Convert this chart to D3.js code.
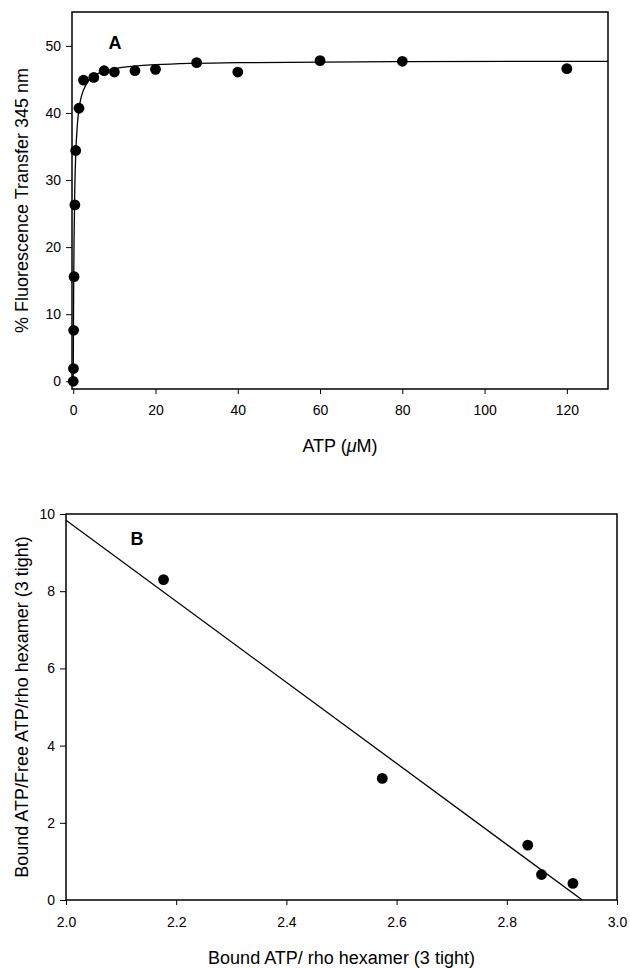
<!DOCTYPE html>
<html>
<head>
<meta charset="utf-8">
<script src="https://cdn.jsdelivr.net/npm/d3@7"></script>
<style>
  body { margin: 0; background: #fff; }
  svg text { font-family: "Liberation Sans", Arial, sans-serif; fill: #000; }
</style>
</head>
<body>
<svg id="chart" width="630" height="968"></svg>
<script>
// panel A: ATP titration
const atpX = [0, 0.05, 0.1, 0.2, 0.4, 0.6, 1.4, 2.5, 5, 7.5, 10, 15, 20, 30, 40, 60, 80, 120];
const atpY = [0, 1.9, 7.6, 15.6, 26.3, 34.4, 40.7, 44.9, 45.3, 46.3, 46.1, 46.3, 46.5, 47.5, 46.1, 47.8, 47.7, 46.6];
// fitted curve
const fitAX = [0, 0.05, 0.1, 0.2, 0.4, 0.6, 1, 1.5, 2, 3, 5, 10, 20, 40, 80, 130];
const fitAY = [0, 7.5, 13.7, 21.2, 29.4, 33.7, 38.2, 41.0, 42.5, 44.1, 45.5, 46.6, 47.2, 47.5, 47.65, 47.7];
const ticksAX = [0, 20, 40, 60, 80, 100, 120];
const ticksAY = [0, 10, 20, 30, 40, 50];

// panel B: Scatchard plot
const boundX = [2.177, 2.574, 2.838, 2.863, 2.92];
const ratioY = [8.3, 3.15, 1.42, 0.66, 0.43];
const fitBX = [2.0, 2.937];
const fitBY = [9.84, 0];
const ticksBX = [2.0, 2.2, 2.4, 2.6, 2.8, 3.0];
const ticksBY = [0, 2, 4, 6, 8, 10];

const svg = d3.select("#chart");

function panel(opt) {
  const x = d3.scaleLinear().domain(opt.xDomain).range([opt.left, opt.right]);
  const y = d3.scaleLinear().domain(opt.yDomain).range([opt.bottom, opt.top]);
  const g = svg.append("g");

  // axes
  g.append("g")
    .attr("transform", `translate(0,${opt.bottom})`)
    .call(d3.axisBottom(x).tickValues(opt.xTicks).tickSize(5).tickPadding(opt.xPad).tickFormat(opt.xFmt))
    .call(a => a.select(".domain").remove())
    .call(a => a.selectAll("text").style("font-size", "14px").style("font-family", "Liberation Sans, Arial, sans-serif"));
  g.append("g")
    .attr("transform", `translate(${opt.left},0)`)
    .call(d3.axisLeft(y).tickValues(opt.yTicks).tickSize(6).tickPadding(5).tickFormat(d3.format("d")))
    .call(a => a.select(".domain").remove())
    .call(a => a.selectAll("text").style("font-size", "14px").style("font-family", "Liberation Sans, Arial, sans-serif"));

  // frame
  g.append("rect")
    .attr("x", opt.left).attr("y", opt.top)
    .attr("width", opt.right - opt.left).attr("height", opt.bottom - opt.top)
    .attr("fill", "none").attr("stroke", "#000").attr("stroke-width", 1.5);

  // clip for fit line
  const clipId = "clip" + opt.name;
  svg.append("clipPath").attr("id", clipId).append("rect")
    .attr("x", opt.left).attr("y", opt.top)
    .attr("width", opt.right - opt.left).attr("height", opt.bottom - opt.top);

  const fit = opt.fitX.map((v, i) => [v, opt.fitY[i]]);
  g.append("path")
    .datum(fit)
    .attr("clip-path", `url(#${clipId})`)
    .attr("fill", "none").attr("stroke", "#000").attr("stroke-width", 1.3)
    .attr("d", d3.line().x(d => x(d[0])).y(d => y(d[1])).curve(d3.curveMonotoneX));

  const pts = opt.px.map((v, i) => [v, opt.py[i]]);
  g.selectAll("circle.pt").data(pts).join("circle")
    .attr("class", "pt")
    .attr("cx", d => x(d[0])).attr("cy", d => y(d[1]))
    .attr("r", 5.4).attr("fill", "#000");

  // panel letter
  g.append("text").attr("x", opt.letterX).attr("y", opt.letterY)
    .attr("text-anchor", "middle").style("font-size", "18px").style("font-weight", "bold")
    .text(opt.name);

  // titles
  g.append("text")
    .attr("x", (opt.left + opt.right) / 2).attr("y", opt.bottom + opt.titleOff)
    .attr("text-anchor", "middle").style("font-size", "18px")
    .html(opt.xTitle);
  g.append("text")
    .attr("transform", `translate(28,${(opt.top + opt.bottom) / 2}) rotate(-90)`)
    .attr("text-anchor", "middle").style("font-size", "18px")
    .text(opt.yTitle);
}

panel({
  name: "A",
  xDomain: [-0.3, 130], yDomain: [-1.15, 55.05],
  left: 72, right: 608, top: 12, bottom: 389,
  xTicks: ticksAX, yTicks: ticksAY, xFmt: d3.format("d"), xPad: 11, titleOff: 63,
  fitX: fitAX, fitY: fitAY, px: atpX, py: atpY,
  letterX: 115, letterY: 49,
  xTitle: 'ATP (<tspan font-style="italic">\u03bc</tspan>M)',
  yTitle: "% Fluorescence Transfer 345 nm"
});

panel({
  name: "B",
  xDomain: [2.0, 3.0], yDomain: [0, 10],
  left: 66, right: 617, top: 514, bottom: 900,
  xTicks: ticksBX, yTicks: ticksBY, xFmt: d3.format(".1f"), xPad: 12, titleOff: 64,
  fitX: fitBX, fitY: fitBY, px: boundX, py: ratioY,
  letterX: 137, letterY: 545,
  xTitle: "Bound ATP/ rho hexamer (3 tight)",
  yTitle: "Bound ATP/Free ATP/rho hexamer (3 tight)"
});
</script>
</body>
</html>
